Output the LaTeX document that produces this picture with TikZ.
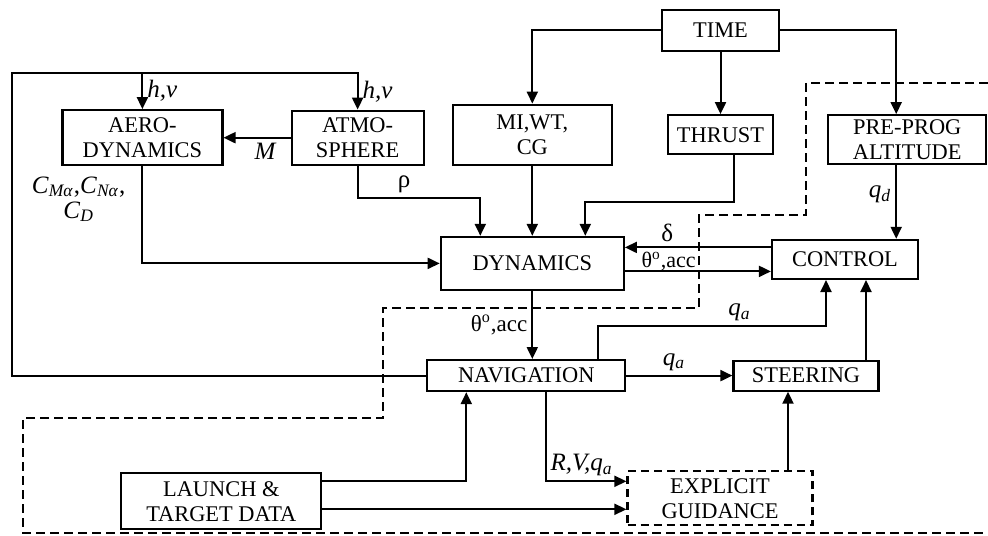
\documentclass[tikz,border=0pt]{standalone}
\usepackage{fontspec}
\setmainfont{Liberation Serif}
\usepackage{tikz}
\usetikzlibrary{arrows.meta,positioning,calc}
\tikzset{
  wire/.style={line width=1pt},
  flow/.style={wire, -{Triangle[length=6pt,width=5.5pt]}},
  block/.style={draw, line width=1.1pt, align=center, inner sep=2pt,
                font=\fontsize{11.2}{12.5}\selectfont},
  dashblock/.style={block, dash pattern=on 4pt off 2.5pt},
  boundary/.style={line width=1.1pt, dash pattern=on 4.5pt off 2.5pt},
  lbl/.style={font=\fontsize{12.5}{12.5}\selectfont, inner sep=2pt}
}
\newcommand{\vsub}[2]{\textit{#1}\textsubscript{\textit{#2}}}

\begin{document}
\begin{tikzpicture}
  \useasboundingbox (0,0) rectangle (494pt,-267.5pt);

  \node[block, minimum width=58.5pt, minimum height=20.5pt] (time) at (360.25pt,-15.25pt) {TIME};
  \node[block, below=31pt of time, minimum width=52.5pt, minimum height=19.5pt] (thrust) {THRUST};
  \node[block, left=27pt of thrust, minimum width=79.5pt, minimum height=30pt] (mi) {MI,WT,\\CG};
  \node[block, left=13.5pt of mi, minimum width=66pt, minimum height=27pt, yshift=-1.5pt] (atmos) {ATMO-\\SPHERE};
  \node[block, left=33.5pt of atmos, minimum width=80pt, minimum height=27.5pt] (aero) {AERO-\\DYNAMICS};
  \node[block, right=26.5pt of thrust, minimum width=79pt, minimum height=24.5pt, yshift=-2.5pt] (preprog) {PRE-PROG\\ALTITUDE};

  \node[block, below=35pt of mi, minimum width=91.5pt, minimum height=26.5pt] (dyn) {DYNAMICS};
  \node[block, right=73pt of dyn, minimum width=73pt, minimum height=19.5pt, yshift=2pt] (control) {CONTROL};
  \node[block, below=34pt of dyn, minimum width=99pt, minimum height=15.5pt, xshift=-3pt] (nav) {NAVIGATION};
  \node[block, right=53pt of nav, minimum width=72.5pt, minimum height=15pt] (steer) {STEERING};
  \node[dashblock, below right=39pt and 0pt of nav, minimum width=92.5pt, minimum height=27pt] (expl) {EXPLICIT\\GUIDANCE};
  \node[block, left=152pt of expl, minimum width=100pt, minimum height=28pt, yshift=-1.5pt] (launch) {LAUNCH \&\\TARGET DATA};

  \coordinate (loop) at (6pt,-36.5pt);

  \draw[boundary] (494pt,-41.5pt) -- (403pt,-41.5pt) -- (403pt,-107.5pt) -- (349.5pt,-107.5pt)
    -- (349.5pt,-154pt) -- (191.5pt,-154pt) -- (191.5pt,-209pt) -- (11.5pt,-209pt)
    -- (11.5pt,-266.5pt) -- (494pt,-266.5pt);

  \draw[flow] (time.west) -| (mi.north);
  \draw[flow] (time.south) -- (thrust.north);
  \draw[flow] (time.east) -| ([xshift=-5.5pt]preprog.north);
  \draw[flow] ([xshift=-5.5pt]preprog.south) -- node[lbl, left, pos=0.4] {\vsub{q}{d}} ([xshift=-5.5pt]preprog.south |- control.north);

  \draw[flow] (nav.west) -| (loop) -| node[lbl, right, pos=0.75] {\textit{h,v}} (atmos.north);
  \draw[flow] (aero.north |- loop) -- node[lbl, right] {\textit{h,v}} (aero.north);
  \draw[flow] (atmos.west) -- node[lbl, below, pos=0.37] {\textit{M}} (aero.east);
  \draw[flow] (aero.south) |- node[lbl, left, pos=0.17, xshift=-6pt, align=center] {\vsub{C}{Mα},\vsub{C}{Nα},\\\vsub{C}{D}} (dyn.west);
  \draw[flow] (atmos.south) -- ++(0,-16pt) -| node[lbl, above, pos=0.19] {ρ} ([xshift=-26pt]dyn.north);
  \draw[flow] (mi.south) -- (dyn.north);
  \draw[flow] ([xshift=6.5pt]thrust.south) -- ++(0,-23.5pt) -| ([xshift=26.5pt]dyn.north);

  \draw[flow] ([yshift=6pt]control.west) -- node[lbl, above, pos=0.71, yshift=0.5pt] {δ} ([yshift=6pt]control.west -| dyn.east);
  \draw[flow] ([yshift=-6pt]control.west -| dyn.east) -- node[lbl, above, pos=0.3, inner sep=0pt, font=\fontsize{11}{11}\selectfont] {θ\textsuperscript{o},acc} ([yshift=-6pt]control.west);
  \draw[flow] ([xshift=3pt]nav.north |- dyn.south) -- node[lbl, left, pos=0.5, font=\fontsize{11.5}{11.5}\selectfont] {θ\textsuperscript{o},acc} ([xshift=3pt]nav.north);

  \draw[flow] ([xshift=36pt]nav.north) -- ++(0,16.5pt) -| node[lbl, above, pos=0.31] {\vsub{q}{a}} ([xshift=-9.5pt]control.south);
  \draw[flow] (nav.east) -- node[lbl, above, pos=0.45] {\vsub{q}{a}} (steer.west);
  \draw[flow] ([xshift=30pt]steer.north) -- ([xshift=30pt]steer.north |- control.south);
  \draw[flow] ([xshift=34pt]expl.north) -- ([xshift=34pt]expl.north |- steer.south);

  \draw[flow] ([xshift=10pt]nav.south) |- node[lbl, above, pos=0.72] {\textit{R,V,}\vsub{q}{a}} ([yshift=8.5pt]expl.west);
  \draw[flow] ([yshift=10pt]launch.east) -| ([xshift=-30pt]nav.south);
  \draw[flow] ([yshift=-4pt]launch.east) -- ([yshift=-4pt]launch.east -| expl.west);
\end{tikzpicture}
\end{document}
